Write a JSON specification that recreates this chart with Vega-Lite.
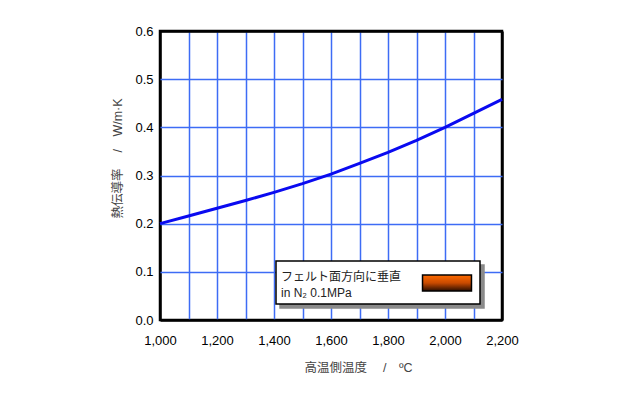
{
  "$schema": "https://vega.github.io/schema/vega-lite/v6.json",
  "width": 342,
  "height": 289,
  "autosize": {"type": "none"},
  "padding": {"left": 160, "top": 31, "right": 128, "bottom": 80},
  "background": "white",
  "config": {
    "view": {"stroke": "black", "strokeWidth": 2.5},
    "font": "Liberation Sans, Arial, Noto Sans CJK JP",
    "axis": {
      "domain": false,
      "ticks": false,
      "grid": true,
      "gridOpacity": 1,
      "labelFont": "Liberation Sans, Arial",
      "labelFontSize": 13,
      "labelColor": "black",
      "titleFont": "Liberation Sans, Noto Sans CJK JP",
      "titleFontSize": 12.5,
      "titleFontWeight": "normal",
      "titleColor": "#444444"
    },
    "legend": {
      "orient": "none",
      "titleOrient": "left",
      "titleFont": "Liberation Sans, Noto Sans CJK JP",
      "titleFontSize": 12,
      "titleFontWeight": "normal",
      "titleLineHeight": 16,
      "titleBaseline": "top",
      "titlePadding": 28,
      "labelLimit": 40,
      "labelOffset": 10,
      "labelFontSize": 14,
      "labelColor": "transparent",
      "symbolSize": 1024,
      "symbolType": "M-1.53,-0.5H1.53V0.5H-1.53Z",
      "padding": 5,
      "strokeWidth": 1.5
    }
  },
  "data": {
    "values": [
      {"t": 1000, "k": 0.200, "s": "フェルト面方向に垂直"},
      {"t": 1100, "k": 0.216, "s": "フェルト面方向に垂直"},
      {"t": 1200, "k": 0.232, "s": "フェルト面方向に垂直"},
      {"t": 1300, "k": 0.248, "s": "フェルト面方向に垂直"},
      {"t": 1400, "k": 0.265, "s": "フェルト面方向に垂直"},
      {"t": 1500, "k": 0.283, "s": "フェルト面方向に垂直"},
      {"t": 1600, "k": 0.303, "s": "フェルト面方向に垂直"},
      {"t": 1700, "k": 0.325, "s": "フェルト面方向に垂直"},
      {"t": 1800, "k": 0.348, "s": "フェルト面方向に垂直"},
      {"t": 1900, "k": 0.373, "s": "フェルト面方向に垂直"},
      {"t": 2000, "k": 0.400, "s": "フェルト面方向に垂直"},
      {"t": 2100, "k": 0.429, "s": "フェルト面方向に垂直"},
      {"t": 2200, "k": 0.458, "s": "フェルト面方向に垂直"}
    ]
  },
  "encoding": {
    "x": {
      "field": "t",
      "type": "quantitative",
      "scale": {"domain": [1000, 2200], "nice": false, "zero": false},
      "axis": {
        "values": [1000, 1100, 1200, 1300, 1400, 1500, 1600, 1700, 1800, 1900, 2000, 2100, 2200],
        "labelExpr": "datum.value % 200 == 0 ? format(datum.value, ',') : ''",
        "labelPadding": 14,
        "labelFlush": false,
        "gridColor": {"condition": {"test": "datum.value == 1000 || datum.value == 2200", "value": "black"}, "value": "#3d6cf5"},
        "gridWidth": {"condition": {"test": "datum.value == 1000 || datum.value == 2200", "value": 2.5}, "value": 1.5},
        "title": "高温側温度　 /　ºC",
        "titleX": 198,
        "titleY": 47,
        "titleAlign": "center",
        "titleBaseline": "middle"
      }
    },
    "y": {
      "field": "k",
      "type": "quantitative",
      "scale": {"domain": [0, 0.6], "nice": false},
      "axis": {
        "values": [0, 0.1, 0.2, 0.3, 0.4, 0.5, 0.6],
        "format": ".1f",
        "labelPadding": 7,
        "gridColor": {"condition": {"test": "datum.value == 0 || datum.value == 0.6", "value": "black"}, "value": "#3d6cf5"},
        "gridWidth": {"condition": {"test": "datum.value == 0 || datum.value == 0.6", "value": 2.5}, "value": 1.5},
        "title": "熱伝導率　 /　W/m·K",
        "titleX": -43,
        "titleY": 127,
        "titleAngle": -90,
        "titleAlign": "center",
        "titleBaseline": "middle"
      }
    }
  },
  "layer": [
    {
      "mark": {"type": "line", "strokeWidth": 3, "color": "#0a0af0"}
    },
    {
      "mark": {"type": "point", "filled": true, "opacity": 0, "fill": "transparent", "stroke": "transparent"},
      "encoding": {
        "shape": {
          "field": "s",
          "type": "nominal",
          "scale": {"domain": ["_"], "range": ["M-1.53,-0.5H1.53V0.5H-1.53Z"]},
          "legend": {
            "legendX": 120,
            "legendY": 234,
            "title": ["フェルト面方向に垂直", "in N₂ 0.1MPa"],
            "titleColor": "transparent",
            "labelExpr": "'\u00a0\u00a0'",
            "fillColor": "#8a8a8a",
            "strokeColor": "#8a8a8a"
          }
        }
      }
    },
    {
      "mark": {
        "type": "point",
        "filled": true,
        "opacity": 0,
        "fill": {"gradient": "linear", "x1": 0, "y1": 0, "x2": 0, "y2": 1, "stops": [{"offset": 0, "color": "#ff6a00"}, {"offset": 0.5, "color": "#c84a00"}, {"offset": 1, "color": "#2a0e00"}]},
        "stroke": "black",
        "strokeWidth": 1
      },
      "encoding": {
        "strokeDash": {
          "field": "s",
          "type": "nominal",
          "scale": {"range": [[1, 0]]},
          "legend": {
            "legendX": 116,
            "legendY": 230,
            "title": ["フェルト面方向に垂直", "in N₂ 0.1MPa"],
            "titleColor": "#222222",
            "labelExpr": "'\u00a0\u00a0'",
            "fillColor": "white",
            "strokeColor": "black"
          }
        }
      }
    }
  ]
}
